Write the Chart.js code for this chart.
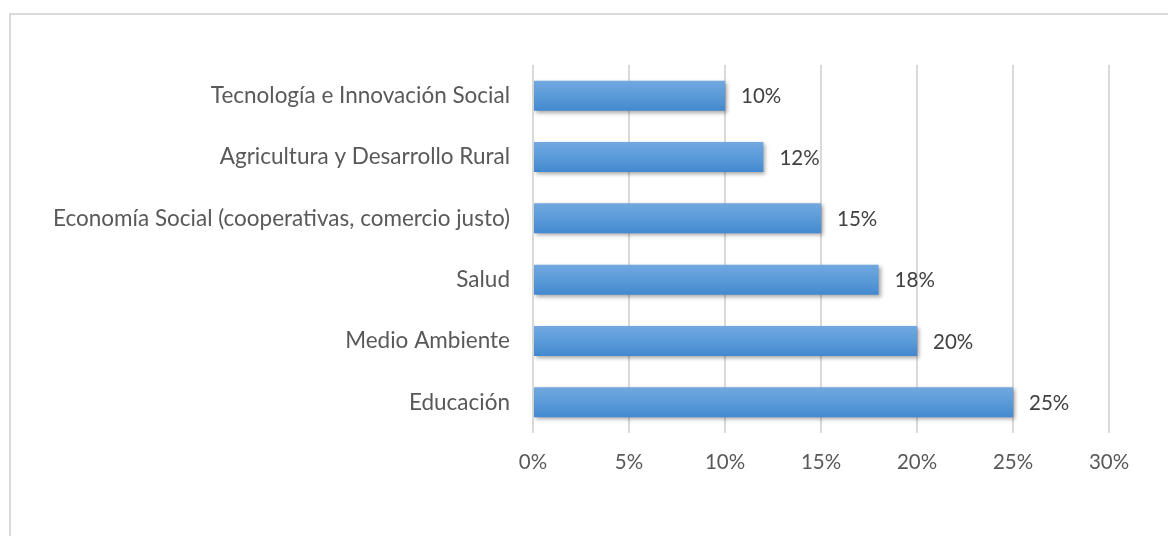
<!DOCTYPE html>
<html>
<head>
<meta charset="utf-8">
<script src="https://cdn.jsdelivr.net/npm/chart.js@4"></script>
<style>
  html, body { margin: 0; padding: 0; background: #fff; }
  #wrap { position: relative; width: 1168px; height: 536px; overflow: hidden; }
  #frame { position: absolute; left: 9px; top: 13px; width: 1170px; height: 540px; border: 2px solid #d9d9d9; box-sizing: border-box; }
  canvas { position: absolute; left: 0; top: 0; }
</style>
</head>
<body>
<div id="wrap">
  <div id="frame"></div>
  <canvas id="grafico" width="1168" height="536"></canvas>
</div>
<script>
const categorias = [
    "Tecnología e Innovación Social",
    "Agricultura y Desarrollo Rural",
    "Economía Social (cooperativas, comercio justo)",
    "Salud",
    "Medio Ambiente",
    "Educación"
];
const valores = [10, 12, 15, 18, 20, 25];
const ticksX = [0, 5, 10, 15, 20, 25, 30];

const fuente = "Lato, sans-serif";
const gris = "#595959";

// etiquetas de datos a la derecha de cada barra
const etiquetas = {
    id: "etiquetas",
    afterDatasetsDraw(chart) {
        const ctx = chart.ctx;
        const meta = chart.getDatasetMeta(0);
        ctx.save();
        ctx.font = "20.5px " + fuente;
        ctx.fillStyle = "#404040";
        ctx.textBaseline = "middle";
        meta.data.forEach(function (bar, i) {
            ctx.fillText(valores[i] + "%", bar.x + 16, bar.y + 1);
        });
        ctx.restore();
    }
};

// sombra ligera bajo las barras
const sombra = {
    id: "sombra",
    beforeDatasetsDraw(chart) {
        chart.ctx.save();
        chart.ctx.shadowColor = "rgba(0,0,0,0.35)";
        chart.ctx.shadowBlur = 4;
        chart.ctx.shadowOffsetX = 2;
        chart.ctx.shadowOffsetY = 2;
    },
    afterDatasetsDraw(chart) {
        chart.ctx.restore();
    }
};

function degradado(context) {
    const chart = context.chart;
    const y = chart.scales && chart.scales.y;
    if (!y || !isFinite(y.height) || y.height <= 0) return "#5b9bd5";
    const centro = y.getPixelForValue(context.dataIndex);
    const h = (y.height / categorias.length) * 0.49;
    if (!isFinite(centro)) return "#5b9bd5";
    const g = chart.ctx.createLinearGradient(0, centro - h / 2, 0, centro + h / 2);
    g.addColorStop(0, "#71a8df");
    g.addColorStop(0.5, "#5b9bd9");
    g.addColorStop(1, "#4388cf");
    return g;
}

const ctx = document.getElementById("grafico").getContext("2d");
new Chart(ctx, {
    type: "bar",
    data: {
        labels: categorias,
        datasets: [{
            data: valores,
            backgroundColor: degradado,
            borderWidth: 0,
            categoryPercentage: 1,
            barPercentage: 0.49
        }]
    },
    options: {
        indexAxis: "y",
        responsive: false,
        animation: false,
        layout: { padding: { top: 65, right: 59, bottom: 0, left: 0 } },
        plugins: {
            legend: { display: false },
            tooltip: { enabled: false }
        },
        scales: {
            x: {
                min: 0,
                max: 30,
                afterBuildTicks(scale) {
                    scale.ticks = ticksX.map(v => ({ value: v }));
                },
                afterFit(scale) { scale.height = 103; },
                grid: { color: "#d9d9d9", lineWidth: 2, drawTicks: false },
                border: { display: false },
                ticks: {
                    padding: 17,
                    color: gris,
                    font: { family: fuente, size: 20.5 },
                    callback: v => v + "%"
                }
            },
            y: {
                afterFit(scale) { scale.width = 533; },
                grid: { display: false, drawTicks: false },
                border: { display: false },
                ticks: {
                    padding: 23,
                    color: gris,
                    font: { family: fuente, size: 22.5 }
                }
            }
        }
    },
    plugins: [sombra, etiquetas]
});
</script>
</body>
</html>
